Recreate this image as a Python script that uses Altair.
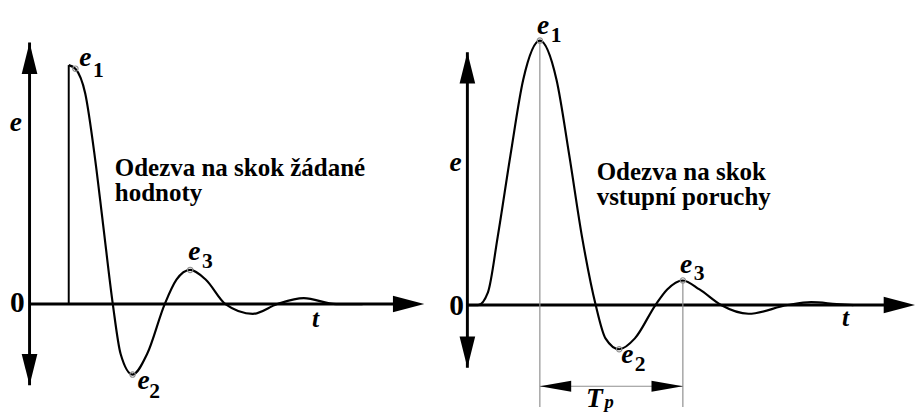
import altair as alt
import pandas as pd

# ---------------- data (t = time units, e = control error) ----------------
# Left panel: response to a step of the set point
left_curve_t = [0.0, 0.17, 0.42, 0.67, 0.875, 1.125, 1.325, 1.63, 2.0, 2.45, 2.75, 3.1,
                3.5, 4.0, 4.7, 5.325, 6.0, 6.825, 7.5]
left_curve_e = [1.0, 0.985, 0.882, 0.611, 0.336, 0.0, -0.209, -0.295, -0.209, 0.0, 0.102, 0.143,
                0.102, 0.0, -0.041, 0.0, 0.025, 0.0, 0.0]
left_step_t = [0.0, 0.0]
left_step_e = [0.0, 1.0]
left_ext_t = [0.17, 1.63, 3.1]
left_ext_e = [0.985, -0.295, 0.143]

# Right panel: response to a step of the input disturbance
right_curve_t = [0.0, 0.275, 0.525, 0.775, 1.1, 1.425, 1.85, 2.275, 2.6, 2.925, 3.275, 3.525,
                 3.875, 4.275, 4.8, 5.1, 5.5, 5.925, 6.475, 7.175, 8.175, 8.775, 9.425, 9.85]
right_curve_e = [0.0, 0.0, 0.048, 0.259, 0.567, 0.852, 1.0, 0.852, 0.567, 0.259, 0.0, -0.126,
                 -0.167, -0.126, 0.0, 0.059, 0.093, 0.059, 0.0, -0.033, 0.0, 0.011, 0.004, 0.0]
right_ext_t = [1.85, 3.875, 5.5]
right_ext_e = [1.0, -0.167, 0.093]

ext_names = ["1", "2", "3"]

# axes (origin, arrow tips)
left_axis = {"t0": -1.0, "top": 1.094, "bottom": -0.34, "tip": 9.075}
right_axis = {"t0": 0.0, "top": 0.956, "bottom": -0.237, "tip": 11.425}

# period marker on the right panel
tp_t = [1.85, 5.5]
tp_line_e = -0.307
tp_bottom_e = -0.385

left_text = ["Odezva na skok žádané", "hodnoty"]
right_text = ["Odezva na skok", "vstupní poruchy"]

# ---------------- styling ----------------
SERIF = "Liberation Serif"
UP = "M0,0L1,4L-1,4Z"
DOWN = "M0,0L1,-4L-1,-4Z"
RIGHT = "M0,0L-4,-1.05L-4,1.05Z"
RIGHT_S = "M0,0L-4,-0.7L-4,0.7Z"
LEFT_S = "M0,0L4,-0.7L4,0.7Z"
GRAY = "#8f8f8f"


def build_panel(curve_t, curve_e, ext_t, ext_e, axis, xdom, ydom, width, height,
                label_offsets, axis_labels, text_lines, text_pos, step=None, tp=False):
    xs = alt.Scale(domain=xdom, nice=False, zero=False)
    ys = alt.Scale(domain=ydom, nice=False, zero=False)
    X = lambda f="t": alt.X(f"{f}:Q", scale=xs, axis=None)
    Y = lambda f="e": alt.Y(f"{f}:Q", scale=ys, axis=None)

    layers = []
    # vertical axis
    vax = pd.DataFrame({"t": [axis["t0"]], "e": [axis["bottom"]], "e2": [axis["top"]]})
    layers.append(alt.Chart(vax).mark_rule(color="black", strokeWidth=3).encode(
        x=X(), y=Y(), y2="e2:Q"))
    # horizontal axis
    hax = pd.DataFrame({"t": [axis["t0"]], "t2": [axis["tip"] - 0.5], "e": [0.0]})
    layers.append(alt.Chart(hax).mark_rule(color="black", strokeWidth=3).encode(
        x=X(), x2="t2:Q", y=Y()))
    # arrow heads
    heads = pd.DataFrame({
        "t": [axis["t0"], axis["t0"], axis["tip"]],
        "e": [axis["top"], axis["bottom"], 0.0],
        "shape": [UP, DOWN, RIGHT],
    })
    layers.append(alt.Chart(heads).mark_point(filled=True, size=256, opacity=1,
                                              color="black", strokeWidth=0).encode(
        x=X(), y=Y(), shape=alt.Shape("shape:N", scale=None)))

    if step is not None:
        sdf = pd.DataFrame({"t": step[0], "e": step[1], "o": list(range(len(step[0])))})
        layers.append(alt.Chart(sdf).mark_line(color="black", strokeWidth=2).encode(
            x=X(), y=Y(), order="o:Q"))

    if tp:
        vl = pd.DataFrame({"t": tp_t, "e": [ext_e[0], ext_e[2]], "e2": [tp_bottom_e] * 2})
        layers.append(alt.Chart(vl).mark_rule(color=GRAY, strokeWidth=1.2).encode(
            x=X(), y=Y(), y2="e2:Q"))
        dl = pd.DataFrame({"t": [tp_t[0]], "t2": [tp_t[1]], "e": [tp_line_e]})
        layers.append(alt.Chart(dl).mark_rule(color=GRAY, strokeWidth=1.2).encode(
            x=X(), x2="t2:Q", y=Y()))
        dh = pd.DataFrame({"t": tp_t, "e": [tp_line_e] * 2, "shape": [LEFT_S, RIGHT_S]})
        layers.append(alt.Chart(dh).mark_point(filled=True, size=256, opacity=1,
                                               color="black", strokeWidth=0).encode(
            x=X(), y=Y(), shape=alt.Shape("shape:N", scale=None)))
        mid = pd.DataFrame({"t": [(tp_t[0] + tp_t[1]) / 2], "e": [tp_line_e]})
        layers.append(alt.Chart(mid).mark_text(
            text="T", font=SERIF, fontSize=28, fontStyle="italic", fontWeight="bold",
            align="left", baseline="alphabetic", dx=-26, dy=21).encode(x=X(), y=Y()))
        layers.append(alt.Chart(mid).mark_text(
            text="p", font=SERIF, fontSize=19, fontStyle="italic", fontWeight="bold",
            align="left", baseline="alphabetic", dx=-7, dy=22).encode(x=X(), y=Y()))

    # the response curve
    cdf = pd.DataFrame({"t": curve_t, "e": curve_e})
    layers.append(alt.Chart(cdf).mark_line(color="black", strokeWidth=2.2,
                                           interpolate="monotone").encode(x=X(), y=Y()))
    # extreme markers
    edf = pd.DataFrame({"t": ext_t, "e": ext_e, "name": ext_names})
    layers.append(alt.Chart(edf).mark_point(shape="circle", size=30, filled=False,
                                            color=GRAY, strokeWidth=1.2, opacity=1).encode(
        x=X(), y=Y()))
    # extreme labels e1, e2, e3
    for i, (edx, edy, sdx, sdy) in enumerate(label_offsets):
        one = edf.iloc[[i]]
        layers.append(alt.Chart(one).mark_text(
            text="e", font=SERIF, fontSize=28, fontStyle="italic", fontWeight="bold",
            align="left", baseline="alphabetic", dx=edx, dy=edy).encode(x=X(), y=Y()))
        layers.append(alt.Chart(one).mark_text(
            font=SERIF, fontSize=22, fontWeight="bold",
            align="left", baseline="alphabetic", dx=sdx, dy=sdy).encode(
            x=X(), y=Y(), text="name:N"))

    # axis labels
    for txt, t, e, size, style in axis_labels:
        d = pd.DataFrame({"t": [t], "e": [e]})
        layers.append(alt.Chart(d).mark_text(
            text=txt, font=SERIF, fontSize=size, fontStyle=style, fontWeight="bold",
            align="center", baseline="alphabetic").encode(x=X(), y=Y()))

    # description
    d = pd.DataFrame({"t": [text_pos[0]], "e": [text_pos[1]]})
    layers.append(alt.Chart(d).mark_text(
        text=text_lines, font=SERIF, fontSize=25.5, fontWeight="bold", lineHeight=26,
        align="left", baseline="alphabetic").encode(x=X(), y=Y()))

    return alt.layer(*layers).properties(width=width, height=height)


left = build_panel(
    left_curve_t, left_curve_e, left_ext_t, left_ext_e, left_axis,
    xdom=[-1.55, 9.7], ydom=[-0.4385, 1.2049], width=450, height=401,
    label_offsets=[(4, -3, 18, 9), (5, 15, 17, 24), (-2, -10, 12, -2)],
    axis_labels=[("e", -1.35, 0.725, 28, "italic"), ("0", -1.3125, -0.033, 30, "normal"),
                 ("t", 6.3, -0.094, 26, "italic")],
    text_lines=left_text, text_pos=(1.175, 0.537),
    step=(left_step_t, left_step_e))

right = build_panel(
    right_curve_t, right_curve_e, right_ext_t, right_ext_e, right_axis,
    xdom=[-0.2, 11.225], ydom=[-0.3926, 1.0926], width=457, height=401,
    label_offsets=[(-3, -7, 11, 1), (2, 14, 16, 22), (-3, -8, 11, 0)],
    axis_labels=[("e", -0.3, 0.507, 28, "italic"), ("0", -0.275, -0.037, 30, "normal"),
                 ("t", 9.65, -0.081, 26, "italic")],
    text_lines=right_text, text_pos=(3.3, 0.474),
    tp=True)

chart = alt.hconcat(left, right, spacing=0).properties(padding=0).configure_view(stroke=None)

chart.save("out.html", embed_options={"renderer": "svg", "actions": False})
